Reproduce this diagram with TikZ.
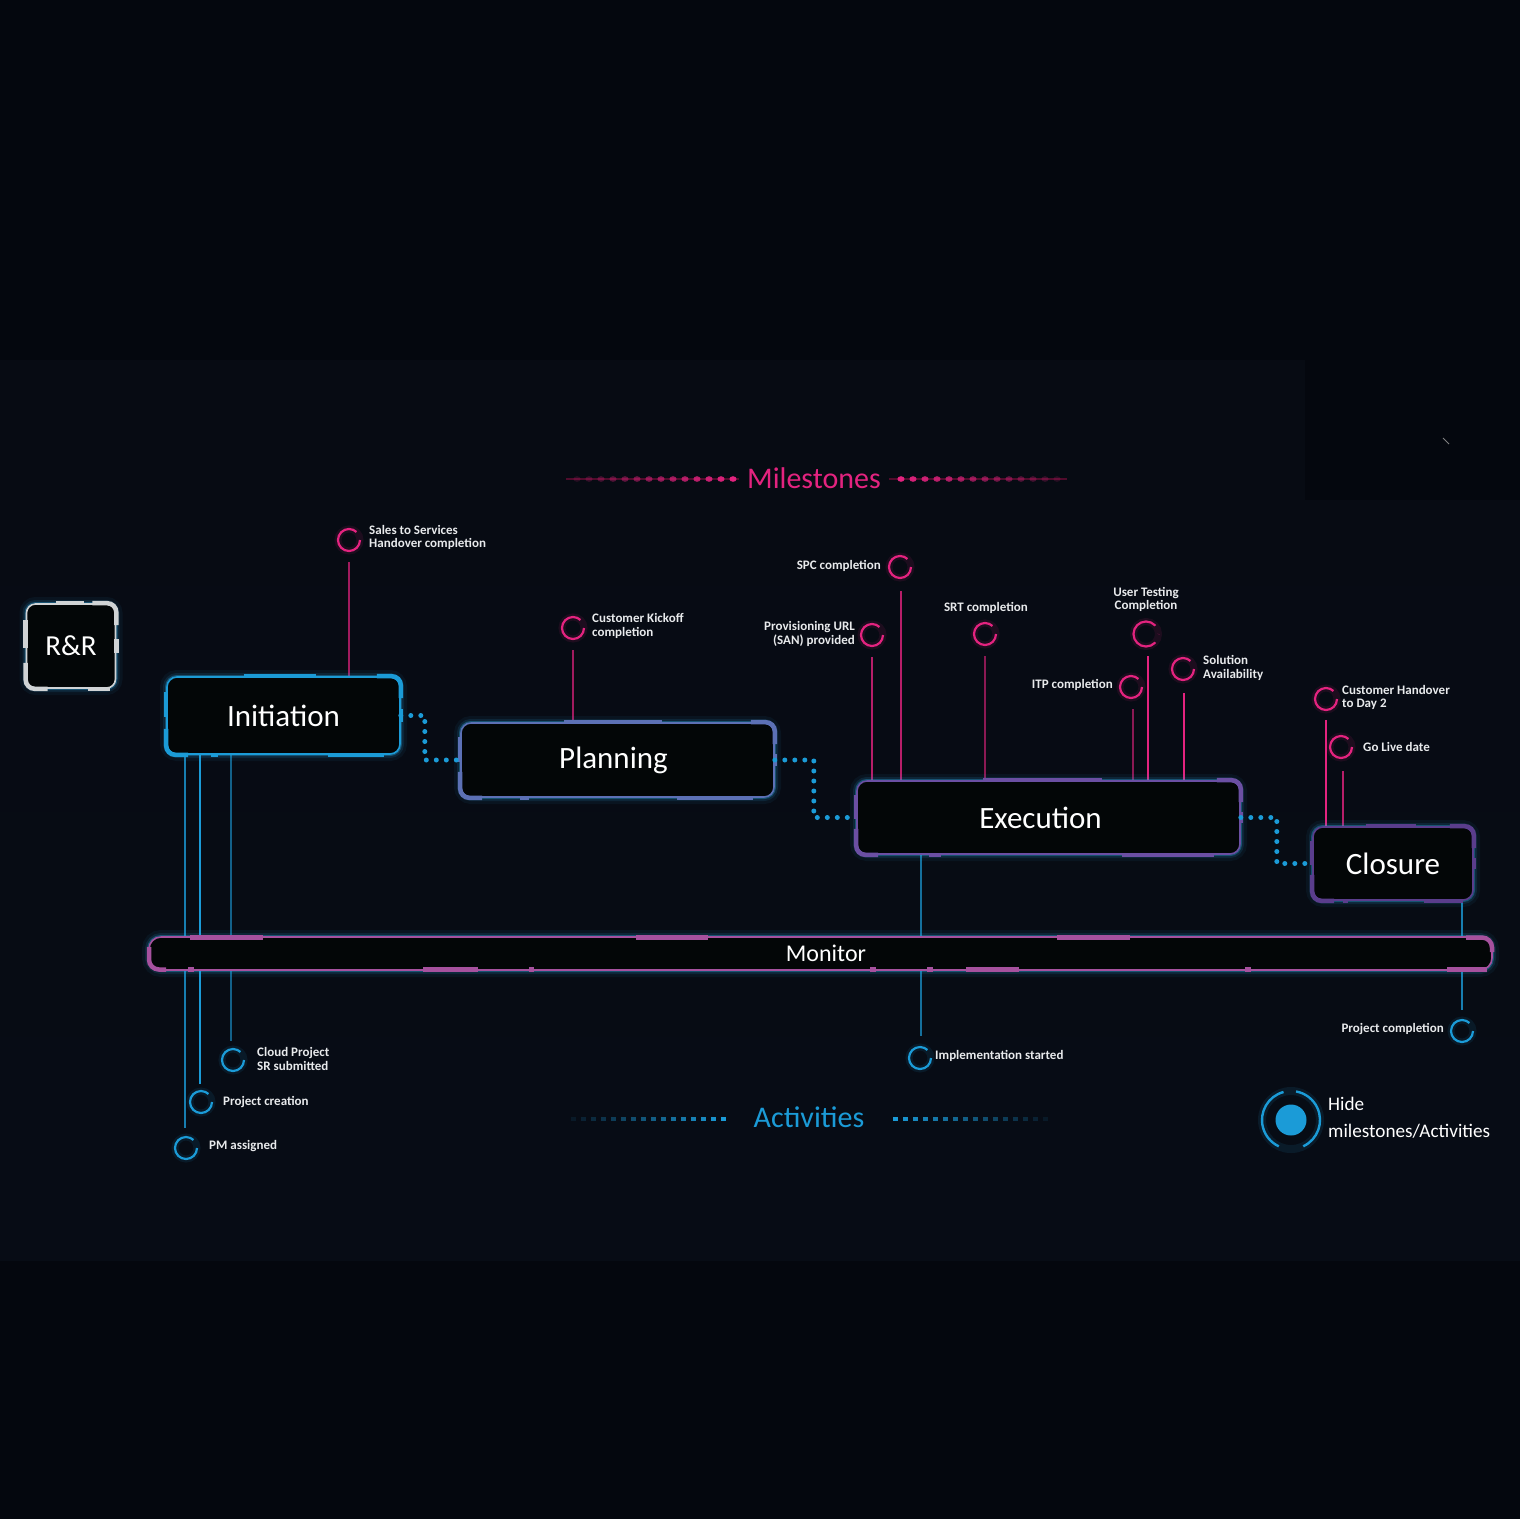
\documentclass[tikz,border=0pt]{standalone}
\usepackage{fontspec}
\setmainfont{Carlito}
\usetikzlibrary{calc}
\definecolor{bgc}{HTML}{04070E}
\definecolor{bandtop}{HTML}{070B13}
\definecolor{bandmid}{HTML}{13232C}
\definecolor{bandbot}{HTML}{070C15}
\definecolor{boxfill}{HTML}{030607}
\definecolor{pinkc}{HTML}{E3237F}
\definecolor{cyanc}{HTML}{1B9BD7}
\definecolor{glowc}{HTML}{2AA8E2}
\definecolor{planc}{HTML}{5C70B5}
\definecolor{execc}{HTML}{6B4FA3}
\definecolor{closc}{HTML}{5A3D8C}
\definecolor{monc}{HTML}{A6519E}
\definecolor{rrc}{HTML}{D0D3D5}
\definecolor{lblc}{HTML}{E8EAEC}
\tikzset{
 phase/.style={rounded corners=10pt, fill=boxfill, draw=#1, line width=1.6pt, text=white, inner sep=0pt,
   font=\fontsize{31}{36}\selectfont,
   preaction={draw=glowc, line width=14pt, opacity=0.06},
   preaction={draw=glowc, line width=8pt, opacity=0.12},
   preaction={draw=glowc, line width=4pt, opacity=0.35}},
 ring/.style={circle, draw=#1, line width=2.2pt, minimum size=22pt, inner sep=0pt,
   dash pattern=on 60pt off 9pt, dash phase=60pt,
   preaction={draw=#1, solid, line width=7pt, opacity=0.10}},
 lbl/.style={text=lblc, font=\fontsize{13}{13.5}\selectfont\bfseries, inner sep=0pt},
 conn/.style={draw=cyanc, line width=5pt, line cap=round, dash pattern=on 0pt off 10pt},
 mline/.style={draw=pinkc, line width=1.1pt},
 aline/.style={draw=cyanc, line width=1.1pt},
}
\newcommand\boxdeco[2]{%
 \begin{scope}[color=#2, line width=4.5pt]
 \draw ($(#1.north west)!0.33!(#1.north east)$) -- ($(#1.north west)!0.64!(#1.north east)$);
 \draw[rounded corners=9pt] ([xshift=-24pt]#1.north east) -- (#1.north east) -- ([yshift=-22pt]#1.north east);
 \draw[rounded corners=9pt] ([yshift=26pt]#1.south west) -- (#1.south west) -- ([xshift=22pt]#1.south west);
 \draw ($(#1.north west)!0.2!(#1.south west)$) -- ($(#1.north west)!0.52!(#1.south west)$);
 \draw ($(#1.north east)!0.42!(#1.south east)$) -- ($(#1.north east)!0.58!(#1.south east)$);
 \draw ($(#1.south west)!0.19!(#1.south east)$) -- ($(#1.south west)!0.22!(#1.south east)$);
 \draw ($(#1.south west)!0.69!(#1.south east)$) -- ($(#1.south west)!0.93!(#1.south east)$);
 \end{scope}}
\begin{document}
\begin{tikzpicture}[x=1pt,y=-1pt]
% background
\fill[bgc] (0,0) rectangle (1520,1519);
\shade[top color=bandtop, middle color=bandmid, bottom color=bandbot] (0,360) rectangle (1520,1260);
\fill[bgc] (1305,360) rectangle (1520,500);
\draw[gray, line width=0.8pt] (1443,438) -- (1449,444);
\useasboundingbox (0,0) rectangle (1520,1519);

% headers
\node[text=pinkc, font=\fontsize{30}{34}\selectfont, inner sep=0pt] (mh) at (814,478) {Milestones};
\draw[pinkc!35!black, line width=1.2pt] (566,479) -- ([xshift=-8pt]mh.west |- 0,479);
\draw[pinkc!35!black, line width=1.2pt] ([xshift=8pt]mh.east |- 0,479) -- (1067,479);
\foreach \i in {0,...,13}{
  \pgfmathsetmacro\op{1-\i*0.065}
  \fill[pinkc, opacity=\op] (733-\i*12,479) ellipse [x radius=3.6pt, y radius=2.8pt];
  \fill[pinkc, opacity=\op] (901+\i*12,479) ellipse [x radius=3.6pt, y radius=2.8pt];
}
\node[text=cyanc, font=\fontsize{30}{34}\selectfont, inner sep=0pt] (ah) at (809,1117) {Activities};
\foreach \i in {0,...,15}{
  \pgfmathsetmacro\op{1-\i*0.06}
  \fill[cyanc, opacity=\op] (723-\i*10-2,1117) rectangle ++(4.5,4);
  \fill[cyanc, opacity=\op] (895+\i*10-2,1117) rectangle ++(4.5,4);
}

% milestone rings
\node[ring=pinkc] (m1) at (349,540) {};
\node[ring=pinkc] (m2) at (573,628) {};
\node[ring=pinkc] (m3) at (900,567) {};
\node[ring=pinkc] (m4) at (872,635) {};
\node[ring=pinkc] (m5) at (985,634) {};
\node[ring=pinkc, minimum size=25pt] (m6) at (1146,634) {};
\node[ring=pinkc] (m7) at (1131,687) {};
\node[ring=pinkc] (m8) at (1183,669) {};
\node[ring=pinkc] (m9) at (1326,699) {};
\node[ring=pinkc] (m10) at (1341,747) {};

% milestone labels
\node[lbl, anchor=west, align=left] (l1) at (369,537.5) {Sales to Services\\Handover completion};
\node[lbl, anchor=west, align=left] (l2) at (592,626) {Customer Kickoff\\completion};
\node[lbl, anchor=east] (l3) at (881,566) {SPC completion};
\node[lbl, anchor=east, align=right] (l4) at (855,634) {Provisioning URL\\(SAN) provided};
\node[lbl] (l5) at (986,608) {SRT completion};
\node[lbl, align=center] (l6) at (1146,599.5) {User Testing\\Completion};
\node[lbl, anchor=east] (l7) at (1113,685) {ITP completion};
\node[lbl, anchor=west, align=left] (l8) at (1203,668) {Solution\\Availability};
\node[lbl, anchor=west, align=left] (l9) at (1342,697.5) {Customer Handover\\to Day 2};
\node[lbl, anchor=west] (l10) at (1363,747) {Go Live date};

% activity rings
\node[ring=cyanc] (a1) at (233,1060) {};
\node[ring=cyanc] (a2) at (201,1102) {};
\node[ring=cyanc] (a3) at (186,1148) {};
\node[ring=cyanc] (a4) at (920,1058) {};
\node[ring=cyanc] (a5) at (1462,1031) {};

% activity labels
\node[lbl, anchor=west, align=left] (b1) at (257,1059) {Cloud Project\\SR submitted};
\node[lbl, anchor=west] (b2) at (223,1102) {Project creation};
\node[lbl, anchor=west] (b3) at (209,1146) {PM assigned};
\node[lbl, anchor=west] (b4) at (935,1056) {Implementation started};
\node[lbl, anchor=east] (b5) at (1444,1029) {Project completion};

% connector lines (behind boxes)
\draw[mline, opacity=0.7] ([yshift=-10pt]m1.south) -- (m1.south |- 0,677);
\draw[mline, opacity=0.7] ([yshift=-10pt]m2.south) -- (m2.south |- 0,723);
\draw[mline, opacity=0.8] (901,591) -- (901,781);
\draw[mline, opacity=0.8] ([yshift=-10pt]m4.south) -- (m4.south |- 0,781);
\draw[mline, opacity=0.6] ([yshift=-10pt]m5.south) -- (m5.south |- 0,781);
\draw[mline] (1148,656) -- (1148,781);
\draw[mline, opacity=0.6] (1133,709) -- (1133,781);
\draw[mline] (1184,693) -- (1184,781);
\draw[mline] (1326,720) -- (1326,827);
\draw[mline, opacity=0.8] (1343,771) -- (1343,827);

\draw[aline, opacity=0.8] (185,754) -- (185,1128);
\draw[aline] (200,754) -- (200,1084);
\draw[aline, opacity=0.6] (231,754) -- (231,1041);
\draw[aline, opacity=0.7] (921,854) -- (921,1036);
\draw[aline, opacity=0.8] (1462,900) -- (1462,1010);

% boxes
\node[phase=rrc, minimum width=89pt, minimum height=84pt, rounded corners=9pt, font=\fontsize{29}{34}\selectfont] (rr) at (71,646) {R\&R};
\boxdeco{rr}{rrc}
\node[phase=cyanc, minimum width=233pt, minimum height=77pt] (init) at (283.5,715.5) {Initiation};
\boxdeco{init}{cyanc}
\node[phase=planc, minimum width=313pt, minimum height=74pt] (plan) at (617.5,760) {Planning\hspace*{8pt}};
\boxdeco{plan}{planc}
\node[phase=execc, minimum width=383pt, minimum height=73pt] (exec) at (1048.5,817.5) {Execution\hspace*{16pt}};
\boxdeco{exec}{execc}
\node[phase=closc, minimum width=160pt, minimum height=73pt] (clos) at (1393,863.5) {Closure};
\boxdeco{clos}{closc}

% dotted connectors between phases
\draw[conn] (init.east) -- ($(init.east)+(24,0)$) |- (plan.west);
\draw[conn] (plan.east) -- ($(plan.east)+(39,0)$) |- (exec.west);
\draw[conn] (exec.east) -- ($(exec.east)+(36,0)$) |- (clos.west);

% monitor bar
\node[phase=monc, rounded corners=12pt, minimum width=1343pt, minimum height=33pt, font=\fontsize{24}{28}\selectfont] (mon) at (820.5,953.5) {\hspace*{11pt}Monitor};
\begin{scope}[monc, line width=4.5pt]
\draw (190,937.5) -- (263,937.5);
\draw (636,937.5) -- (708,937.5);
\draw (1057,937.5) -- (1130,937.5);
\draw[rounded corners=10pt] (1466,937.5) -- (1492,937.5) -- (1492,952);
\draw[rounded corners=10pt] (149,947) -- (149,969.5) -- (166,969.5);
\draw (188,969.5) -- (194,969.5);
\draw (423,969.5) -- (478,969.5);
\draw (529,969.5) -- (534,969.5);
\draw (870,969.5) -- (876,969.5);
\draw (927,969.5) -- (933,969.5);
\draw (966,969.5) -- (1019,969.5);
\draw (1245,969.5) -- (1251,969.5);
\draw (1447,969.5) -- (1487,969.5);
\end{scope}

% hide toggle
\node[circle, fill=cyanc, minimum size=31pt, inner sep=0pt] (tog) at (1291,1120) {};
\begin{scope}[shift={(tog.center)}, x=1pt, y=1pt]
\draw[glowc, line width=8pt, opacity=0.10] (0,0) circle[radius=29pt];
\draw[cyanc, line width=2.4pt] (105:29) arc[start angle=105, end angle=245, radius=29pt];
\draw[cyanc, line width=2.4pt] (-65:29) arc[start angle=-65, end angle=80, radius=29pt];
\end{scope}
\node[text=white, font=\fontsize{19.2}{27}\selectfont, anchor=west, align=left, inner sep=0pt] (hide) at (1328,1117.5) {Hide\\milestones/Activities};
\end{tikzpicture}
\end{document}
